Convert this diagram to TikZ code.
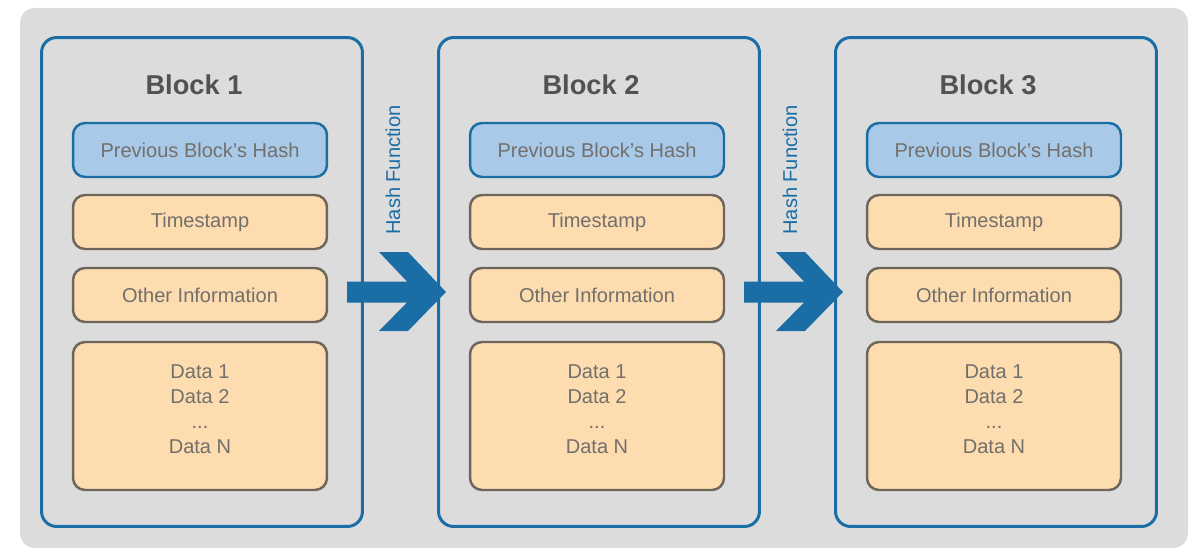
\documentclass[tikz,border=0pt]{standalone}
\usepackage{fontspec}
\setmainfont{Liberation Sans}

\definecolor{chainblue}{HTML}{1B6DA6}
\definecolor{hashfill}{HTML}{A9C9E8}
\definecolor{fieldfill}{HTML}{FDDCB0}
\definecolor{fieldline}{HTML}{6E655C}
\definecolor{panelgrey}{HTML}{DCDCDC}
\definecolor{labelgrey}{HTML}{736F6B}

\begin{document}
\begin{tikzpicture}[x=0.02cm,y=-0.02cm,
  blockframe/.style={draw=chainblue,line width=1.7pt,rounded corners=0.3cm,
    minimum width=6.42cm,minimum height=9.78cm},
  blocktitle/.style={font=\fontsize{15.5}{18}\selectfont\bfseries,text=black!68},
  hashbox/.style={draw=chainblue,fill=hashfill,line width=1.4pt,rounded corners=0.24cm,
    minimum width=5.08cm,minimum height=1.08cm,text=labelgrey,
    font=\fontsize{11.4}{14.2}\selectfont},
  fieldbox/.style={draw=fieldline,fill=fieldfill,line width=1.4pt,rounded corners=0.24cm,
    minimum width=5.08cm,minimum height=1.08cm,text=labelgrey,align=center,
    font=\fontsize{11.4}{14.2}\selectfont},
  hashlabel/.style={rotate=90,text=chainblue,font=\fontsize{11.4}{14}\selectfont}]

\useasboundingbox (0,0) rectangle (1193,554);
\fill[panelgrey,rounded corners=0.3cm] (20,8) rectangle (1188,548);

% the three blocks
\foreach \i/\x in {1/202,2/599,3/996}{
  \node[blockframe] (blk\i) at (\x,282) {};
  \node[blocktitle] (ttl\i) at (\x-8,85) {Block \i};
  \node[hashbox] (hash\i) at (\x-2,150) {Previous Block’s Hash};
  \node[fieldbox] (time\i) at (\x-2,222) {Timestamp};
  \node[fieldbox] (info\i) at (\x-2,295) {Other Information};
  \node[fieldbox,minimum height=2.96cm] (data\i) at (\x-2,416)
    {Data 1\\Data 2\\...\\Data N\\[-6pt]};
}

% hash function arrows
\coordinate (hf1) at (396,292);
\coordinate (hf2) at (793,292);
\foreach \j in {1,2}{
  \fill[chainblue,shift={(hf\j)}] (-49,-10.5) -- (11,-10.5) -- (-17,-40) -- (12,-40)
    -- (50,0) -- (12,39) -- (-17,39) -- (11,10.5) -- (-49,10.5) -- cycle;
  \node[hashlabel] (hfl\j) at ([shift={(-3,-122)}]hf\j) {Hash Function};
}
\end{tikzpicture}
\end{document}
